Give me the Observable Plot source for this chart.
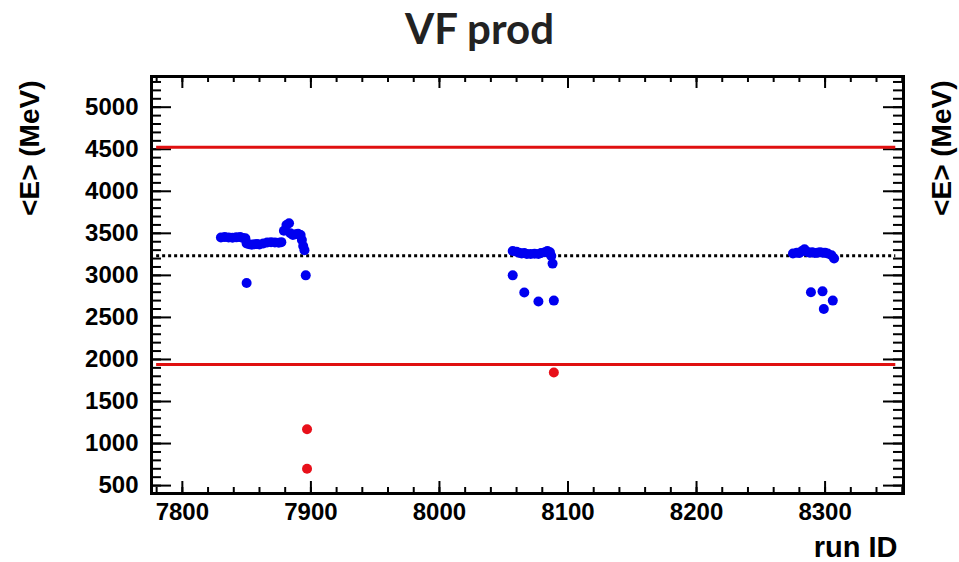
<!DOCTYPE html>
<html><head><meta charset="utf-8">
<script src="https://cdn.jsdelivr.net/npm/d3@7"></script>
<script src="https://cdn.jsdelivr.net/npm/@observablehq/plot@0.6"></script>
<style>
body{margin:0;background:#fff;}
#title{width:959px;height:60px;text-align:center;font-family:Lato,sans-serif;font-weight:bold;font-size:42px;line-height:56px;color:#222;}
</style></head><body>
<div id="title">VF prod</div>
<div id="chart"></div>
<script>
// --- data ---
const runs1   = [7830,7833,7836,7839,7842,7845,7847,7849,7850,7852,7854,7856,7858,7860,7863,7866,7869,7872,7875,7877,7879,7881,7883,7884,7886,7888,7890,7892,7893,7894,7895,7850,7896,7897,7897];
const energy1 = [3450,3455,3450,3448,3452,3455,3445,3440,3380,3370,3365,3370,3372,3368,3380,3390,3395,3392,3388,3395,3530,3600,3620,3500,3480,3490,3495,3480,3420,3350,3300,2910,3000,1170,700];
const runs2   = [8057,8057,8060,8062,8064,8066,8068,8071,8074,8077,8079,8082,8084,8086,8087,8088,8066,8077,8089,8089];
const energy2 = [3000,3290,3280,3270,3260,3265,3255,3255,3258,3255,3265,3275,3290,3275,3230,3140,2796,2690,2700,1845];
const runs3   = [8275,8278,8280,8282,8284,8286,8288,8290,8292,8294,8296,8298,8300,8302,8305,8307,8289,8298,8306,8299];
const energy3 = [3260,3270,3265,3290,3310,3280,3270,3275,3265,3270,3275,3268,3270,3260,3240,3200,2800,2810,2700,2600];
const meanE = [3233];
const limits = [4525, 1940];
const lineRange = [7780, 8355];
const xTickLabels = [7800, 7900, 8000, 8100, 8200, 8300];
const yTickLabels = [500,1000,1500,2000,2500,3000,3500,4000,4500,5000];
const xMinorTicks = d3.range(7780, 8361, 20);
const yMinorTicks = d3.range(500, 5301, 100);
const xDomain = [7776, 8361];
const yDomain = [406, 5365];

const points = [
  ...runs1.map((r,i)=>({run:r, e:energy1[i]})),
  ...runs2.map((r,i)=>({run:r, e:energy2[i]})),
  ...runs3.map((r,i)=>({run:r, e:energy3[i]}))
];

const W = 959, H = 502;
const mL = 151, mR = 56, mT = 16, mB = 69;
const iW = W - mL - mR, iH = H - mT - mB;

const chart = Plot.plot({
  width: W, height: H,
  marginLeft: mL, marginRight: mR, marginTop: mT, marginBottom: mB,
  style: {fontFamily: "Liberation Sans, Arial, sans-serif", fontSize: "24px", fontWeight: "bold", color: "#000", background: "#fff"},
  x: {domain: xDomain, label: null},
  y: {domain: yDomain, label: null},
  marks: [
    Plot.axisX({ticks: xTickLabels, tickSize: 0, tickPadding: 9, tickFormat: d => String(d), label: null, fill: "#000"}),
    Plot.axisY({ticks: yTickLabels, tickSize: 0, tickPadding: 13, tickFormat: d => String(d), label: null, fill: "#000"}),
    // inner ticks
    Plot.tickX(xTickLabels, {x: d => d, insetTop: iH - 12, stroke: "#000", strokeWidth: 2}),
    Plot.tickX(xMinorTicks, {x: d => d, insetTop: iH - 6, stroke: "#000", strokeWidth: 2}),
    Plot.tickX(xTickLabels, {x: d => d, insetBottom: iH - 12, stroke: "#000", strokeWidth: 2}),
    Plot.tickX(xMinorTicks, {x: d => d, insetBottom: iH - 6, stroke: "#000", strokeWidth: 2}),
    Plot.tickY(yTickLabels, {y: d => d, insetRight: iW - 20, stroke: "#000", strokeWidth: 2}),
    Plot.tickY(yMinorTicks, {y: d => d, insetRight: iW - 10, stroke: "#000", strokeWidth: 2}),
    Plot.tickY(yTickLabels, {y: d => d, insetLeft: iW - 20, stroke: "#000", strokeWidth: 2}),
    Plot.tickY(yMinorTicks, {y: d => d, insetLeft: iW - 10, stroke: "#000", strokeWidth: 2}),
    // limit lines
    Plot.ruleY(limits, {y: d => d, x1: lineRange[0], x2: lineRange[1], stroke: "#e01010", strokeWidth: 3}),
    Plot.ruleY(meanE, {y: d => d, x1: lineRange[0], x2: lineRange[1], stroke: "#000", strokeWidth: 3, strokeDasharray: "3,3"}),
    // points
    Plot.dot(points, {x: "run", y: "e", r: 5, fill: d => d.e < limits[1] ? "#e8101a" : "#0000f0", stroke: "none"}),
    Plot.frame({stroke: "#000", strokeWidth: 3}),
    // axis titles
    Plot.text(["run ID"], {frameAnchor: "bottom-right", dx: -6, dy: 63, textAnchor: "end", lineAnchor: "bottom", fontSize: 29, fontWeight: "bold", fill: "#000"}),
    Plot.text(["<E> (MeV)"], {frameAnchor: "top-left", dx: -121, dy: 4, rotate: -90, textAnchor: "end", lineAnchor: "middle", fontSize: 28, fontWeight: "bold", fill: "#000"}),
    Plot.text(["<E> (MeV)"], {frameAnchor: "top-right", dx: 39, dy: 4, rotate: -90, textAnchor: "end", lineAnchor: "middle", fontSize: 28, fontWeight: "bold", fill: "#000"})
  ]
});
document.getElementById("chart").appendChild(chart);
</script>
</body></html>
